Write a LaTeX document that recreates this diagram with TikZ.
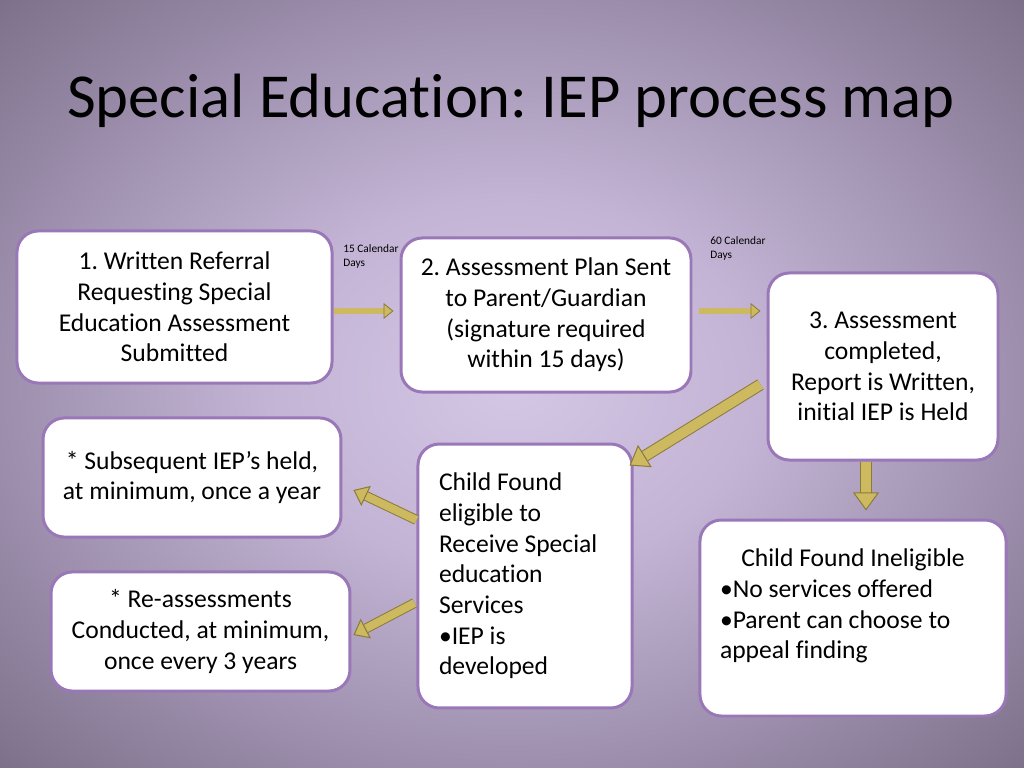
\documentclass[tikz,border=0pt]{standalone}
\usepackage{fontspec}
\setmainfont{Carlito}[Ligatures=CommonOff]
\usetikzlibrary{arrows.meta,calc}
\frenchspacing

\definecolor{bgin}{HTML}{D4C6E5}
\definecolor{bgmid}{HTML}{C3B4D5}
\definecolor{bgedge}{HTML}{9C8EAC}
\definecolor{bgout}{HTML}{7B6F88}
\definecolor{boxedge}{HTML}{9A78B8}
\definecolor{arrowfill}{HTML}{CDB95F}
\definecolor{arrowedge}{HTML}{8B7B3B}

\pgfdeclareradialshading{slidebg}{\pgfpoint{0bp}{0bp}}{color(0bp)=(bgin); color(12bp)=(bgmid); color(25bp)=(bgedge); color(36bp)=(bgout); color(50bp)=(bgout)}

\tikzset{
    box/.style={draw=boxedge, line width=2.1pt, fill=white, rounded corners=15pt,
        align=center, font=\fontsize{18pt}{21.6pt}\selectfont},
    days/.style={anchor=north west, inner sep=0pt, align=left,
        font=\fontsize{8pt}{9.8pt}\selectfont},
    thinarrow/.style={draw=arrowedge, line width=0.6pt, double=arrowfill,
        double distance=3.7pt,
        -{Triangle[width=11.2pt, length=7pt, line width=0.6pt, fill=arrowfill]}},
    midarrow/.style={draw=arrowedge, line width=0.7pt, double=arrowfill,
        double distance=5.6pt,
        -{Triangle[width=15.5pt, length=9.8pt, line width=0.7pt, fill=arrowfill]}},
    fatarrow/.style={draw=arrowedge, line width=0.7pt, double=arrowfill,
        double distance=7pt,
        -{Triangle[width=18.3pt, length=12.7pt, line width=0.7pt, fill=arrowfill]}},
}

\begin{document}
\begin{tikzpicture}[x=0.703125pt, y=-0.703125pt]
    % slide background
    \shade[shading=slidebg] (0, 0) rectangle (1024, 768);
    \useasboundingbox (0, 0) rectangle (1024, 768);

    \node[anchor=base, font=\fontsize{44pt}{52pt}\selectfont] (title)
        at (511, 118) {Special Education: IEP process map};

    \node[box, minimum width=221.5pt, minimum height=106.9pt] (b1)
        at (174.5, 307) {1. Written Referral\\Requesting Special\\Education Assessment\\Submitted};
    \node[box, minimum width=203.9pt, minimum height=108.3pt] (b2)
        at (546, 315) {2. Assessment Plan Sent\\to Parent/Guardian\\(signature required\\within 15 days)};
    \node[box, minimum width=161.7pt, minimum height=131.5pt] (b3)
        at (883, 366.5) {3. Assessment\\completed,\\Report is Written,\\initial IEP is Held};
    \node[box, minimum width=209.5pt, minimum height=83.7pt] (b4)
        at (192, 477.5) {* Subsequent IEP’s held,\\at minimum, once a year};
    \node[box, minimum width=210.2pt, minimum height=83.7pt] (b5)
        at (200.5, 631.5) {* Re-assessments\\Conducted, at minimum,\\once every 3 years};
    \node[box, align=flush left, text width=120.9pt, minimum width=150.5pt, minimum height=185.6pt] (b6)
        at (525, 576) {Child Found\\eligible to\\Receive Special\\education\\Services\\•IEP is\\developed};
    \node[box, minimum width=215.2pt, minimum height=137.8pt] (b7)
        at (853, 618) {};
    \node[align=flush left, text width=187pt, inner sep=0pt,
        font=\fontsize{18pt}{21.6pt}\selectfont] (t7)
        at (853, 606) {\hfill Child Found Ineligible\hfill\null\\•No services offered\\•Parent can choose to\\appeal finding};

    \node[days] (d15) at (343, 244) {15 Calendar\\Days};
    \node[days] (d60) at (710, 236) {60 Calendar\\Days};

    \draw[thinarrow] ($(b1.east)+(0,4)$) -- ($(b2.west)+(-6,-4)$);
    \draw[thinarrow] ($(b2.east)+(7,-4)$) -- ($(b3.west)+(-6,-55.5)$);
    \draw[fatarrow] ($(b3.west)+(-6,18)$) -- ($(b6.north east)+(-4,23)$);
    \draw[fatarrow] ($(b3.south)+(-17,0)$) -- ($(b7.north)+(13,-8)$);
    \draw[midarrow] ($(b6.west)+(0,-56)$) -- ($(b4.east)+(11,12.5)$);
    \draw[midarrow] ($(b6.west)+(-2,27)$) -- ($(b5.east)+(2,3.5)$);
\end{tikzpicture}
\end{document}
